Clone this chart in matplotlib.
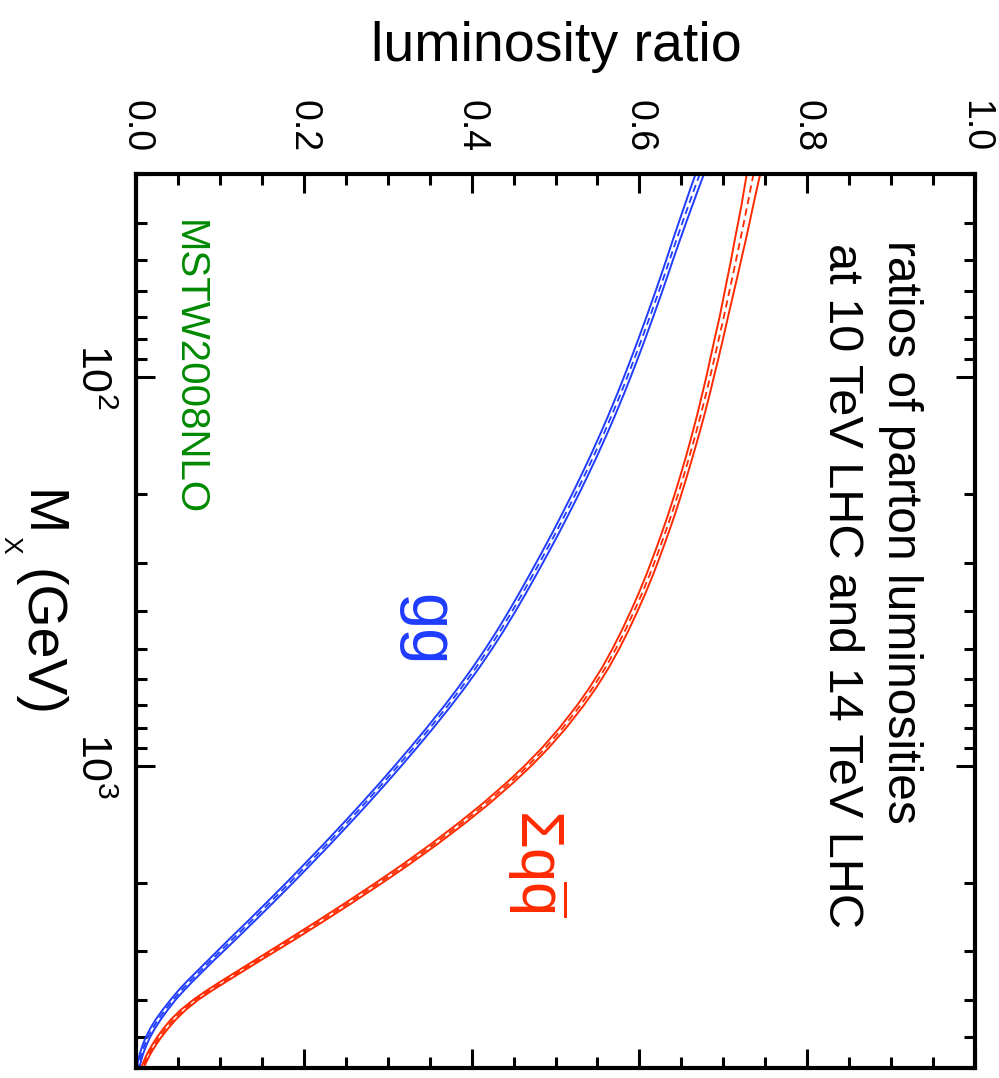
import numpy as np
import matplotlib
matplotlib.use('Agg')
import matplotlib.pyplot as plt
from matplotlib.ticker import MultipleLocator, LogLocator, NullFormatter, FormatStrFormatter

plt.rcParams['font.family'] = ['Liberation Sans', 'DejaVu Sans']
plt.rcParams['mathtext.fontset'] = 'custom'
plt.rcParams['mathtext.rm'] = 'Liberation Sans'
plt.rcParams['mathtext.it'] = 'Liberation Sans:italic'
plt.rcParams['mathtext.bf'] = 'Liberation Sans:bold'

# invariant mass M_X in GeV
mx = [30, 33, 36, 40, 45, 50, 55, 60, 70, 80, 90, 100, 110, 125, 140, 160,
      180, 200, 225, 250, 280, 320, 360, 400, 450, 500, 560, 630, 700, 800,
      900, 1000, 1100, 1250, 1400, 1600, 1800, 2000, 2250, 2500, 2800, 3200,
      3600, 3800, 4000, 4250, 4500, 4750, 5000, 5250, 5500, 5750, 6000]

# gg luminosity ratio (10 TeV / 14 TeV), central value and half-width of band
gg_ratio = [0.6720, 0.6650, 0.6588, 0.6513, 0.6431, 0.6359, 0.6294, 0.6234,
            0.6124, 0.6026, 0.5937, 0.5855, 0.5779, 0.5673, 0.5574, 0.5453,
            0.5341, 0.5238, 0.5118, 0.5009, 0.4887, 0.4740, 0.4607, 0.4484,
            0.4341, 0.4205, 0.4050, 0.3879, 0.3718, 0.3503, 0.3306, 0.3125,
            0.2958, 0.2728, 0.2519, 0.2267, 0.2039, 0.1833, 0.1597, 0.1383,
            0.1149, 0.0874, 0.0636, 0.0534, 0.0444, 0.0348, 0.0265, 0.0197,
            0.0142, 0.0100, 0.0067, 0.0042, 0.0025]
gg_err = [0.0050, 0.0048, 0.0046, 0.0044, 0.0042, 0.004, 0.004, 0.004,
          0.004, 0.004, 0.004, 0.004, 0.004, 0.004, 0.004, 0.004,
          0.004, 0.004, 0.004, 0.004, 0.004, 0.004, 0.004, 0.004,
          0.004, 0.004, 0.004, 0.004, 0.004, 0.004, 0.004, 0.004,
          0.004, 0.004, 0.004, 0.004, 0.004, 0.004, 0.004, 0.004,
          0.004, 0.0035, 0.0035, 0.0033, 0.003, 0.003, 0.003, 0.0028,
          0.0025, 0.0023, 0.002, 0.0018, 0.0015]

# sum over q qbar luminosity ratio
qq_ratio = [0.7360, 0.7322, 0.7288, 0.7245, 0.7196, 0.7152, 0.7111, 0.7073,
            0.7006, 0.6945, 0.6891, 0.6842, 0.6796, 0.6732, 0.6671, 0.6596,
            0.6526, 0.6461, 0.6385, 0.6312, 0.6230, 0.6129, 0.6032, 0.5938,
            0.5827, 0.5720, 0.5594, 0.5445, 0.5296, 0.5086, 0.4879, 0.4673,
            0.4470, 0.4175, 0.3893, 0.3540, 0.3210, 0.2901, 0.2543, 0.2215,
            0.1854, 0.1419, 0.1038, 0.0867, 0.0716, 0.0564, 0.0446, 0.0354,
            0.0276, 0.0211, 0.0156, 0.0112, 0.0075]
qq_err = [0.0080, 0.0075, 0.0070, 0.0068, 0.0065, 0.0060, 0.0058, 0.0055,
          0.0050, 0.0050, 0.0048, 0.0045, 0.0045, 0.0043, 0.0042, 0.004,
          0.004, 0.004, 0.004, 0.004, 0.004, 0.004, 0.004, 0.004,
          0.004, 0.004, 0.004, 0.004, 0.004, 0.004, 0.004, 0.004,
          0.004, 0.004, 0.004, 0.004, 0.004, 0.004, 0.004, 0.004,
          0.004, 0.0035, 0.0035, 0.0033, 0.003, 0.003, 0.003, 0.0028,
          0.0025, 0.0023, 0.002, 0.0018, 0.0015]

blue = '#1f3cff'
red = '#ff2a00'
green = '#008a00'

fig = plt.figure(figsize=(9.99, 10.78), dpi=100)
W, H = 999., 1078.
ax = fig.add_axes([136 / W, 1 - 1068 / H, (975 - 136) / W, (1068 - 174) / H])

# the whole plot is turned on its side: ratio runs across, mass runs down
for vals, err, col in [(gg_ratio, gg_err, blue), (qq_ratio, qq_err, red)]:
    v = np.array(vals)
    e = np.array(err)
    ax.plot(v + e, mx, '-', color=col, lw=1.4)
    ax.plot(v - e, mx, '-', color=col, lw=1.4)
    ax.plot(v, mx, '--', color=col, lw=1.3, dashes=(4, 2.5))

ax.set_xlim(0, 1)
ax.set_yscale('log')
ax.set_ylim(6000, 30)

ax.xaxis.set_major_locator(MultipleLocator(0.2))
ax.xaxis.set_minor_locator(MultipleLocator(0.05))
ax.xaxis.set_major_formatter(FormatStrFormatter('%.1f'))
ax.yaxis.set_major_locator(LogLocator(base=10))
ax.yaxis.set_minor_locator(LogLocator(base=10, subs=np.arange(2, 10)))
ax.yaxis.set_minor_formatter(NullFormatter())

ax.tick_params(axis='both', which='both', direction='in', top=True, bottom=True,
               left=True, right=True, labeltop=True, labelbottom=False,
               labelleft=True, labelright=False, width=2.2, colors='black')
ax.tick_params(axis='both', which='major', length=14, pad=16, labelrotation=-90)
ax.tick_params(axis='x', which='major', labelsize=27)
ax.tick_params(axis='y', which='major', labelsize=31, pad=17)
ax.tick_params(axis='both', which='minor', length=8)
for lbl in ax.get_yticklabels():
    lbl.set_va('center')
for s in ax.spines.values():
    s.set_linewidth(3)


def side_text(x, y, s, size, color='black'):
    # text read top to bottom, anchored at the start of its baseline (pixels)
    fig.text(x / W, 1 - y / H, s, fontsize=size, color=color, rotation=-90,
             rotation_mode='anchor', ha='left', va='baseline')


fig.text(556 / W, 1 - 61 / H, 'luminosity ratio', fontsize=40,
         ha='center', va='baseline')

side_text(25, 490, 'M', 40)
side_text(3, 536, 'X', 19)
side_text(25, 569, '(GeV)', 40)

side_text(178, 220, 'MSTW2008NLO', 29, green)
side_text(888, 240, 'ratios of parton luminosities', 34.5)
side_text(829, 243, 'at 10 TeV LHC and 14 TeV LHC', 35)
side_text(409, 594, 'gg', 47, blue)
side_text(520, 809, r'$\mathrm{\Sigma q}\overline{\mathrm{q}}$', 44, red)

fig.savefig('out.png', dpi=100)
